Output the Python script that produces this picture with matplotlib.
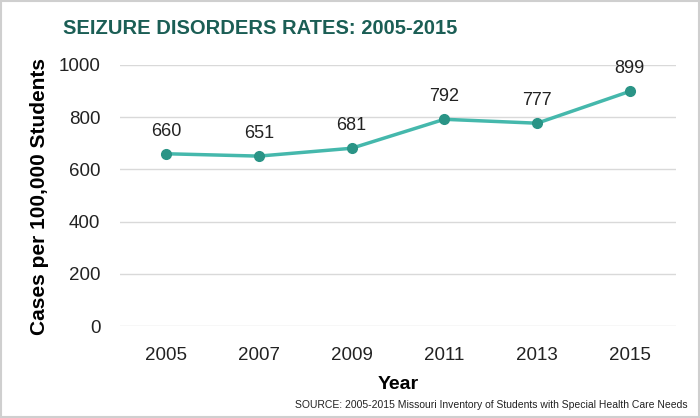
import matplotlib.pyplot as plt
from matplotlib.patches import Rectangle

years = ['2005', '2007', '2009', '2011', '2013', '2015']
rates = [660, 651, 681, 792, 777, 899]

plt.rcParams['font.family'] = ['Liberation Sans', 'DejaVu Sans']

fig = plt.figure(figsize=(7, 4.18), dpi=100)
ax = fig.add_axes([0.171, 0.22, 0.795, 0.6245])

x = range(len(years))
ax.plot(x, rates, color='#45b8ac', linewidth=2.5, marker='o', markersize=7,
        markerfacecolor='#2a9486', markeredgecolor='#2a9486', zorder=3)
for i, v in zip(x, rates):
    ax.annotate(str(v), (i, v), xytext=(0, 10), textcoords='offset points',
                ha='center', va='bottom', fontsize=13, color='#222222')

ax.set_xlim(-0.5, len(years) - 0.5)
ax.set_ylim(0, 1000)
ax.set_yticks(range(0, 1001, 200))
ax.set_xticks(list(x))
ax.set_xticklabels(years)
ax.tick_params(axis='both', length=0, labelsize=13.5, colors='#222222')
ax.tick_params(axis='y', pad=14)
ax.tick_params(axis='x', pad=15)
ax.grid(axis='y', color='#d9d9d9', linewidth=1)
ax.set_axisbelow(True)
for s in ax.spines.values():
    s.set_visible(False)

ax.set_xlabel('Year', fontsize=14, fontweight='bold', labelpad=9)
fig.text(0.057, 0.53, 'Cases per 100,000 Students', rotation=90, ha='center', va='center',
         fontsize=15, fontweight='bold', color='black')

fig.text(0.372, 0.933, 'SEIZURE DISORDERS RATES: 2005-2015', ha='center', va='center',
         fontsize=14.5, fontweight='bold', color='#1b5e55')
fig.text(0.982, 0.03, 'SOURCE: 2005-2015 Missouri Inventory of Students with Special Health Care Needs',
         ha='right', va='center', fontsize=7.5, color='#222222')

fig.patches.append(Rectangle((0.002, 0.003), 0.996, 0.994, transform=fig.transFigure,
                             fill=False, edgecolor='#cfcfcf', linewidth=1.5))

fig.savefig('out.png', dpi=100)
